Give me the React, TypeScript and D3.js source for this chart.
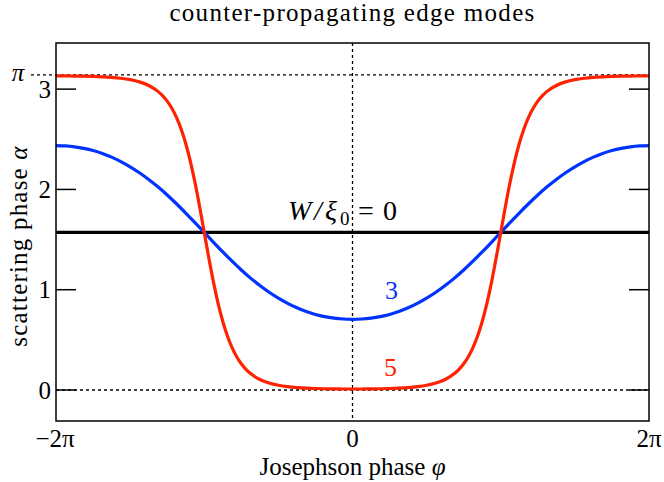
import React from 'react';
import * as d3 from 'd3';

const titleText = 'counter-propagating edge modes';
const xLabelText = 'Josephson phase ';
const yLabelText = 'scattering phase ';
const xTickValues = [-2, 0, 2]; // units of π
const xTickLabels = ['−2π', '0', '2π'];
const yTickValues = [0, 1, 2, 3];
const yTickLabels = ['0', '1', '2', '3'];
const piLevel = 3.14159;
const zeroLevel = 0;

// W/ξ0 = 0
const phiW0 = [-2, 2];
const alphaW0 = [1.5708, 1.5708];

// W/ξ0 = 3
const phiW3 = [
  -2, -1.9375, -1.875, -1.8125, -1.75, -1.6875, -1.625, -1.5625, -1.5, -1.4375, -1.375, -1.3125,
  -1.25, -1.1875, -1.125, -1.0625, -1, -0.9375, -0.875, -0.8125, -0.75, -0.6875, -0.625, -0.5625,
  -0.5, -0.4375, -0.375, -0.3125, -0.25, -0.1875, -0.125, -0.0625, 0, 0.0625, 0.125, 0.1875, 0.25,
  0.3125, 0.375, 0.4375, 0.5, 0.5625, 0.625, 0.6875, 0.75, 0.8125, 0.875, 0.9375, 1, 1.0625, 1.125,
  1.1875, 1.25, 1.3125, 1.375, 1.4375, 1.5, 1.5625, 1.625, 1.6875, 1.75, 1.8125, 1.875, 1.9375, 2,
];
const alphaW3 = [
  2.4366, 2.4335, 2.4246, 2.4096, 2.3881, 2.359, 2.3218, 2.2774, 2.2254, 2.1664, 2.0998, 2.0258,
  1.9446, 1.8571, 1.7646, 1.6687, 1.5708, 1.4729, 1.377, 1.2845, 1.197, 1.1158, 1.0418, 0.9752,
  0.9162, 0.8642, 0.8198, 0.7826, 0.7535, 0.732, 0.717, 0.7081, 0.705, 0.7081, 0.717, 0.732, 0.7535,
  0.7826, 0.8198, 0.8642, 0.9162, 0.9752, 1.0418, 1.1158, 1.197, 1.2845, 1.377, 1.4729, 1.5708,
  1.6687, 1.7646, 1.8571, 1.9446, 2.0258, 2.0998, 2.1664, 2.2254, 2.2774, 2.3218, 2.359, 2.3881,
  2.4096, 2.4246, 2.4335, 2.4366,
];

// W/ξ0 = 5
const phiW5 = [
  -2, -1.9375, -1.875, -1.8125, -1.75, -1.6875, -1.625, -1.5625, -1.5, -1.4375, -1.375, -1.3125,
  -1.28125, -1.25, -1.21875, -1.1875, -1.15625, -1.125, -1.09375, -1.0625, -1.03125, -1, -0.96875,
  -0.9375, -0.90625, -0.875, -0.84375, -0.8125, -0.78125, -0.75, -0.71875, -0.6875, -0.625, -0.5625,
  -0.5, -0.4375, -0.375, -0.3125, -0.25, -0.1875, -0.125, -0.0625, 0, 0.0625, 0.125, 0.1875, 0.25,
  0.3125, 0.375, 0.4375, 0.5, 0.5625, 0.625, 0.6875, 0.71875, 0.75, 0.78125, 0.8125, 0.84375, 0.875,
  0.90625, 0.9375, 0.96875, 1, 1.03125, 1.0625, 1.09375, 1.125, 1.15625, 1.1875, 1.21875, 1.25,
  1.28125, 1.3125, 1.375, 1.4375, 1.5, 1.5625, 1.625, 1.6875, 1.75, 1.8125, 1.875, 1.9375, 2,
];
const alphaW5 = [
  3.1316, 3.1314, 3.1306, 3.1291, 3.1267, 3.1229, 3.1172, 3.1084, 3.0945, 3.0723, 3.0364, 2.9775,
  2.9349, 2.88, 2.8092, 2.7184, 2.6031, 2.4582, 2.2804, 2.0686, 1.828, 1.5708, 1.3136, 1.073, 0.8612,
  0.6834, 0.5385, 0.4232, 0.3324, 0.2616, 0.2067, 0.1641, 0.1052, 0.0693, 0.0471, 0.0332, 0.0244,
  0.0187, 0.0149, 0.0125, 0.011, 0.0102, 0.01, 0.0102, 0.011, 0.0125, 0.0149, 0.0187, 0.0244, 0.0332,
  0.0471, 0.0693, 0.1052, 0.1641, 0.2067, 0.2616, 0.3324, 0.4232, 0.5385, 0.6834, 0.8612, 1.073,
  1.3136, 1.5708, 1.828, 2.0686, 2.2804, 2.4582, 2.6031, 2.7184, 2.8092, 2.88, 2.9349, 2.9775, 3.0364,
  3.0723, 3.0945, 3.1084, 3.1172, 3.1229, 3.1267, 3.1291, 3.1306, 3.1314, 3.1316,
];

const W = 664;
const H = 482;
const left = 56;
const right = 649;
const top = 43;
const bottom = 421;
const FONT = 'Liberation Serif, DejaVu Serif, serif';
const RED = '#ff2200';
const BLUE = '#0033ff';

export default function App() {
  const PI = Math.PI;
  const x = d3.scaleLinear().domain([-2 * PI, 2 * PI]).range([left, right]);
  const y = d3.scaleLinear().domain([-0.309, 3.46]).range([bottom, top]);

  const mk = (phi: number[]) =>
    d3
      .line<number>()
      .x((_, i) => x(phi[i] * PI))
      .y((d) => y(d))
      .curve(d3.curveMonotoneX);

  const dash = '3,3';

  return (
    <svg
      width={W}
      height={H}
      viewBox={`0 0 ${W} ${H}`}
      style={{ position: 'absolute', left: 0, top: 0, background: '#fff' }}
    >
      <defs>
        <clipPath id="plot">
          <rect x={left} y={top} width={right - left} height={bottom - top} />
        </clipPath>
      </defs>

      <g fontFamily={FONT} fill="#000">
        {/* title */}
        <text x={x(0)} y={21} textAnchor="middle" fontSize={25} letterSpacing={1.3}>
          {titleText}
        </text>

        {/* y ticks labels */}
        {yTickValues.map((v, i) => (
          <text key={v} x={51} y={y(v) + 8.5} textAnchor="end" fontSize={25}>
            {yTickLabels[i]}
          </text>
        ))}
        <text x={18} y={y(piLevel) + 6} textAnchor="middle" fontSize={25} fontStyle="italic">
          π
        </text>

        {/* x tick labels */}
        {xTickValues.map((v, i) => (
          <text key={v} x={x(v * PI) - (v < 0 ? 1 : 0)} y={447} textAnchor="middle" fontSize={25}>
            {xTickLabels[i]}
          </text>
        ))}

        {/* axis labels */}
        <text x={x(0)} y={475} textAnchor="middle" fontSize={25}>
          {xLabelText}
          <tspan fontStyle="italic">φ</tspan>
        </text>
        <text transform={`translate(27, ${246}) rotate(-90)`} textAnchor="middle" fontSize={25} letterSpacing={1.2}>
          {yLabelText}
          <tspan fontStyle="italic">α</tspan>
        </text>

        {/* curve annotations */}
        <text y={220} fontSize={28}>
          <tspan x={288} fontStyle="italic">W</tspan>
          <tspan x={314} fontStyle="italic">/</tspan>
          <tspan x={325} fontStyle="italic">ξ</tspan>
          <tspan x={340} dy={5} fontSize={19}>0</tspan>
          <tspan x={358} dy={-5}>=</tspan>
          <tspan x={383}>0</tspan>
        </text>
        <text x={391.5} y={299} textAnchor="middle" fontSize={26} fill={BLUE}>
          3
        </text>
        <text x={390.5} y={376} textAnchor="middle" fontSize={26} fill={RED}>
          5
        </text>
      </g>

      {/* reference dotted lines */}
      <line x1={31} x2={right} y1={y(piLevel)} y2={y(piLevel)} stroke="#000" strokeWidth={1.3} strokeDasharray={dash} />
      <line x1={left} x2={right} y1={y(zeroLevel)} y2={y(zeroLevel)} stroke="#000" strokeWidth={1.3} strokeDasharray={dash} />
      <line x1={x(0)} x2={x(0)} y1={top} y2={bottom} stroke="#000" strokeWidth={1.3} strokeDasharray={dash} />

      {/* curves */}
      <g clipPath="url(#plot)" fill="none" strokeLinejoin="round">
        <path d={mk(phiW0)(alphaW0) || ''} stroke="#000" strokeWidth={3.2} />
        <path d={mk(phiW3)(alphaW3) || ''} stroke={BLUE} strokeWidth={3.2} />
        <path d={mk(phiW5)(alphaW5) || ''} stroke={RED} strokeWidth={3.2} />
      </g>

      {/* frame */}
      <rect x={left} y={top} width={right - left} height={bottom - top} fill="none" stroke="#000" strokeWidth={1.5} />

      {/* y ticks */}
      {yTickValues.map((v) => (
        <g key={v}>
          <line x1={left} x2={left + 20} y1={y(v)} y2={y(v)} stroke="#000" strokeWidth={1.5} />
          <line x1={right - 20} x2={right} y1={y(v)} y2={y(v)} stroke="#000" strokeWidth={1.5} />
        </g>
      ))}
    </svg>
  );
}
